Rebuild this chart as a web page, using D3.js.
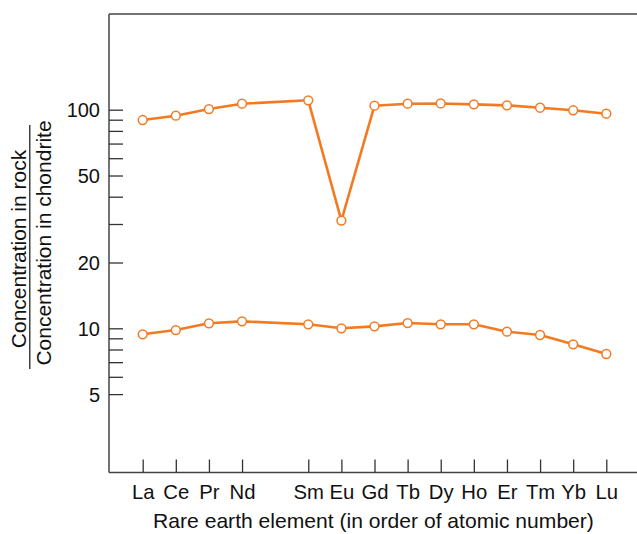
<!DOCTYPE html>
<html>
<head>
<meta charset="utf-8">
<script src="https://cdn.jsdelivr.net/npm/d3@7"></script>
<style>
  html, body { margin: 0; padding: 0; background: #fff; }
  svg { display: block; }
  text { font-family: "Liberation Sans", Arial, Helvetica, sans-serif; fill: #111; }
</style>
</head>
<body>
<svg id="chart" width="637" height="534"></svg>
<script>
// ---- data ----
const elements = ["La","Ce","Pr","Nd","Pm","Sm","Eu","Gd","Tb","Dy","Ho","Er","Tm","Yb","Lu"];
const labeledElements = ["La","Ce","Pr","Nd","Sm","Eu","Gd","Tb","Dy","Ho","Er","Tm","Yb","Lu"];
const upperValues = [89.7, 93.9, 100.7, 106.5, null, 110.4, 31.1, 104.3, 106.5, 106.8, 105.8, 104.7, 102.1, 99.4, 95.9];
const lowerValues = [9.39, 9.82, 10.54, 10.76, null, 10.43, 10.0, 10.21, 10.57, 10.43, 10.43, 9.65, 9.32, 8.45, 7.63];
const yTickValues = [100, 90, 80, 70, 60, 50, 40, 30, 20, 10, 9, 8, 7, 6, 5];
const yTickLabels = [100, 50, 20, 10, 5];
const xTitle = "Rare earth element (in order of atomic number)";
const yTitleTop = "Concentration in rock";
const yTitleBottom = "Concentration in chondrite";

// ---- layout ----
const svg = d3.select("#chart");
const pLeft = 109, pRight = 637, pTop = 14, pBottom = 472.5;
const orange = "#f47a22";

const x = d3.scalePoint().domain(elements).range([142.7, 606.3]);
const y = d3.scaleLog().domain([2.19, 274]).range([pBottom, pTop]);

// frame: top line
svg.append("line").attr("x1", pLeft).attr("x2", pRight).attr("y1", pTop).attr("y2", pTop)
  .attr("stroke", "#444").attr("stroke-width", 1.5);

// y axis
const yAxis = d3.axisRight(y).tickValues(yTickValues).tickSize(14)
  .tickFormat(d => yTickLabels.includes(d) ? d : "");
const gy = svg.append("g").attr("transform", `translate(${pLeft},0)`).call(yAxis);
gy.select(".domain").attr("d", `M0,${pTop}V${pBottom}`).attr("stroke", "#444").attr("stroke-width", 1.5);
gy.selectAll(".tick line").attr("stroke", "#333").attr("stroke-width", 1.3);
gy.selectAll(".tick text").attr("x", -9).attr("text-anchor", "end")
  .attr("font-size", 20).attr("dy", "0.35em")
  .style("font-family", "'Liberation Sans', Arial, sans-serif").attr("fill", "#111");

// x axis
const xAxis = d3.axisTop(x).tickValues(labeledElements).tickSize(13).tickFormat("");
const gx = svg.append("g").attr("transform", `translate(0,${pBottom})`).call(xAxis);
gx.select(".domain").attr("d", `M${pLeft},0H${pRight}`).attr("stroke", "#444").attr("stroke-width", 1.5);
gx.selectAll(".tick line").attr("stroke", "#333").attr("stroke-width", 1.3);
gx.selectAll(".tick").append("text")
  .attr("y", 26).attr("text-anchor", "middle").attr("font-size", 20.3)
  .style("font-family", "'Liberation Sans', Arial, sans-serif").attr("fill", "#111")
  .text(d => d);

// axis titles
svg.append("text").attr("x", 373.5).attr("y", 528).attr("text-anchor", "middle")
  .attr("font-size", 21.1).text(xTitle);

const gt = svg.append("g").attr("transform", `translate(0,246) rotate(-90)`);
gt.append("text").attr("x", -3).attr("y", 26).attr("text-anchor", "middle").attr("font-size", 21).text(yTitleTop);
gt.append("text").attr("x", 3).attr("y", 50.5).attr("text-anchor", "middle").attr("font-size", 21).text(yTitleBottom);
gt.append("line").attr("x1", -123).attr("x2", 121).attr("y1", 29.8).attr("y2", 29.8)
  .attr("stroke", "#111").attr("stroke-width", 1.2);

// series
const line = d3.line().x(d => x(d.e)).y(d => y(d.v));
[upperValues, lowerValues].forEach(vals => {
  const pts = elements.map((e, i) => ({e, v: vals[i]})).filter(d => d.v != null);
  svg.append("path").datum(pts).attr("d", line).attr("fill", "none")
    .attr("stroke", orange).attr("stroke-width", 2.6).attr("stroke-linejoin", "round");
  svg.selectAll(null).data(pts).enter().append("circle")
    .attr("cx", d => x(d.e)).attr("cy", d => y(d.v)).attr("r", 4.4)
    .attr("fill", "#fff").attr("stroke", orange).attr("stroke-width", 1.5);
});
</script>
</body>
</html>
